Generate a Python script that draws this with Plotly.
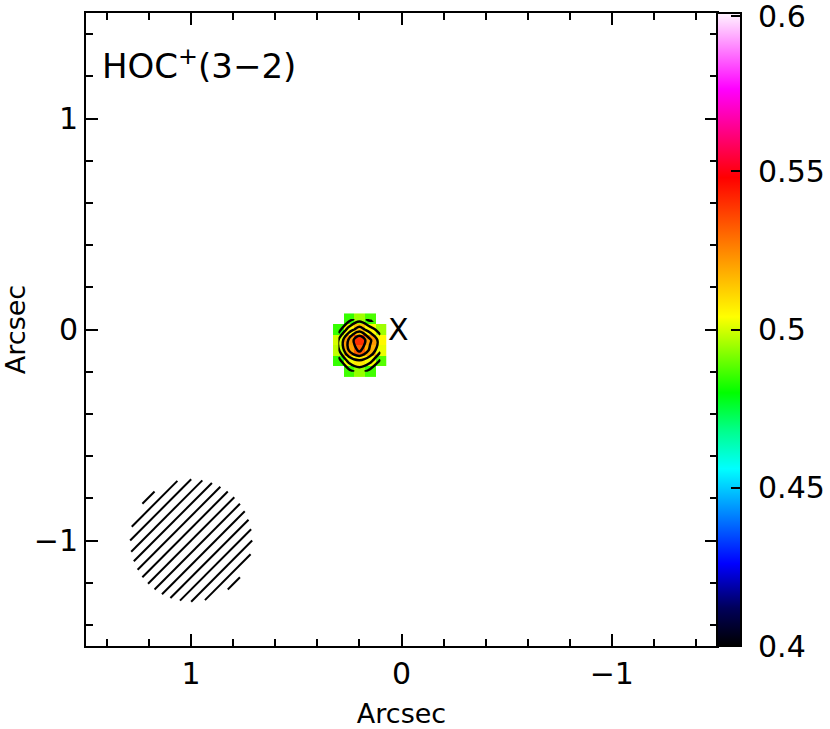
import numpy as np
import plotly.graph_objects as go

# ---- data ----
pix_x = [0.30, 0.25, 0.20, 0.15, 0.10]          # arcsec (RA offset)
pix_y = [0.05, 0.00, -0.05, -0.10, -0.15, -0.20]  # arcsec (Dec offset)
nan = None
intensity = [
    [nan,   0.485, 0.495, 0.487, nan],
    [0.485, 0.505, 0.515, 0.505, 0.495],
    [0.500, 0.522, 0.540, 0.522, 0.505],
    [0.498, 0.520, 0.532, 0.518, 0.502],
    [0.485, 0.503, 0.508, 0.503, 0.488],
    [nan,   0.486, 0.494, 0.486, nan],
]
contour_levels = dict(start=0.49, end=0.535, size=0.01)
cbar_major = [0.40, 0.45, 0.50, 0.55, 0.599]
cbar_labels = ["0.4", "0.45", "0.5", "0.55", "0.6"]
cbar_minor_step = 0.01
axis_ticks = [1, 0, -1]
axis_labels = ["1", "0", "\u22121"]
line_name = "HOC<sup>+</sup>(3\u22122)"
marker_pos = (0.0, 0.0)
beam_center = (1.0, -1.0)
beam_radius = 0.29
hatch_step = 0.058

FONT = "DejaVu Sans, sans-serif"

colorscale = [
    [0.00, "rgb(0,0,0)"],
    [0.06, "rgb(0,0,90)"],
    [0.13, "rgb(0,0,255)"],
    [0.28, "rgb(0,255,255)"],
    [0.34, "rgb(0,255,140)"],
    [0.40, "rgb(0,255,0)"],
    [0.52, "rgb(255,255,0)"],
    [0.62, "rgb(255,140,0)"],
    [0.74, "rgb(255,0,0)"],
    [0.88, "rgb(255,0,255)"],
    [1.00, "rgb(255,245,255)"],
]

z = np.array([[np.nan if v is None else v for v in row] for row in intensity])

cb_common = dict(
    x=1.0, xanchor="left", xpad=0, y=0, yanchor="bottom", ypad=0, len=1, lenmode="fraction",
    thickness=24, thicknessmode="pixels", outlinewidth=2, outlinecolor="black",
    tickwidth=2, tickcolor="black", ticks="inside",
)

fig = go.Figure()
# minor-tick colour bar (drawn first, underneath)
fig.add_trace(go.Heatmap(
    x=pix_x, y=pix_y, z=z, zmin=0.4, zmax=0.6, colorscale=colorscale,
    hoverinfo="skip",
    colorbar=dict(tick0=0.4, dtick=cbar_minor_step, ticklen=6, showticklabels=False, **cb_common),
))
fig.add_trace(go.Heatmap(
    x=pix_x, y=pix_y, z=z, zmin=0.4, zmax=0.6, colorscale=colorscale,
    hoverongaps=False,
    colorbar=dict(tickmode="array", tickvals=cbar_major,
                  ticktext=["\u00a0" + t for t in cbar_labels], ticklen=11,
                  ticklabeloverflow="allow",
                  tickfont=dict(family=FONT, size=30, color="black"), **cb_common),
))
fig.add_trace(go.Contour(
    x=pix_x, y=pix_y, z=z, showscale=False, autocontour=False,
    contours=dict(coloring="none", **contour_levels),
    line=dict(color="black", width=2.5), hoverinfo="skip",
))

# beam hatching (lines x + y = const clipped to circle)
bx, by = [], []
cx, cy = beam_center
for k in range(-8, 9):
    c = k * hatch_step
    d = abs(c) / np.sqrt(2)
    if d >= beam_radius:
        continue
    h = np.sqrt(beam_radius ** 2 - d ** 2)
    mx, my = cx + c / 2, cy + c / 2
    ux, uy = -1 / np.sqrt(2), 1 / np.sqrt(2)
    bx += [mx - h * ux, mx + h * ux, None]
    by += [my - h * uy, my + h * uy, None]
fig.add_trace(go.Scatter(x=bx, y=by, mode="lines", line=dict(color="black", width=2),
                         hoverinfo="skip", showlegend=False))

fig.add_annotation(x=marker_pos[0], y=marker_pos[1], text="X", showarrow=False,
                   xanchor="center", yanchor="middle", xshift=-3,
                   font=dict(family=FONT, size=30, color="black"))
fig.add_annotation(x=0.0, y=1.0, xref="paper", yref="paper", text=line_name,
                   showarrow=False, xanchor="left", yanchor="top", xshift=14, yshift=-27,
                   font=dict(family=FONT, size=34, color="black"))

axis_common = dict(
    showline=True, linecolor="black", linewidth=2, mirror="allticks",
    ticks="inside", ticklen=12, tickwidth=2, tickcolor="black",
    showgrid=False, zeroline=False, automargin=False,
    tickmode="array", tickvals=axis_ticks, ticktext=axis_labels,
    tickfont=dict(family=FONT, size=30, color="black"),
    minor=dict(ticks="inside", ticklen=7, tickwidth=2, tickcolor="black", dtick=0.2,
               tick0=0, showgrid=False),
    title=dict(text="Arcsec", font=dict(family=FONT, size=27, color="black")),
)
fig.update_xaxes(range=[1.5, -1.5], title_standoff=18, **axis_common)
fig.update_yaxes(range=[-1.5, 1.5], **axis_common)
fig.update_layout(
    width=830, height=729,
    margin=dict(l=86, r=113, t=13, b=83, autoexpand=False),
    plot_bgcolor="white", paper_bgcolor="white", showlegend=False,
)
# remove the page's default 8px body margin so the figure fills the window exactly
fig.write_html("out.html", config={"displayModeBar": False},
               post_script="document.body.style.margin='0px';document.body.style.overflow='hidden';")
